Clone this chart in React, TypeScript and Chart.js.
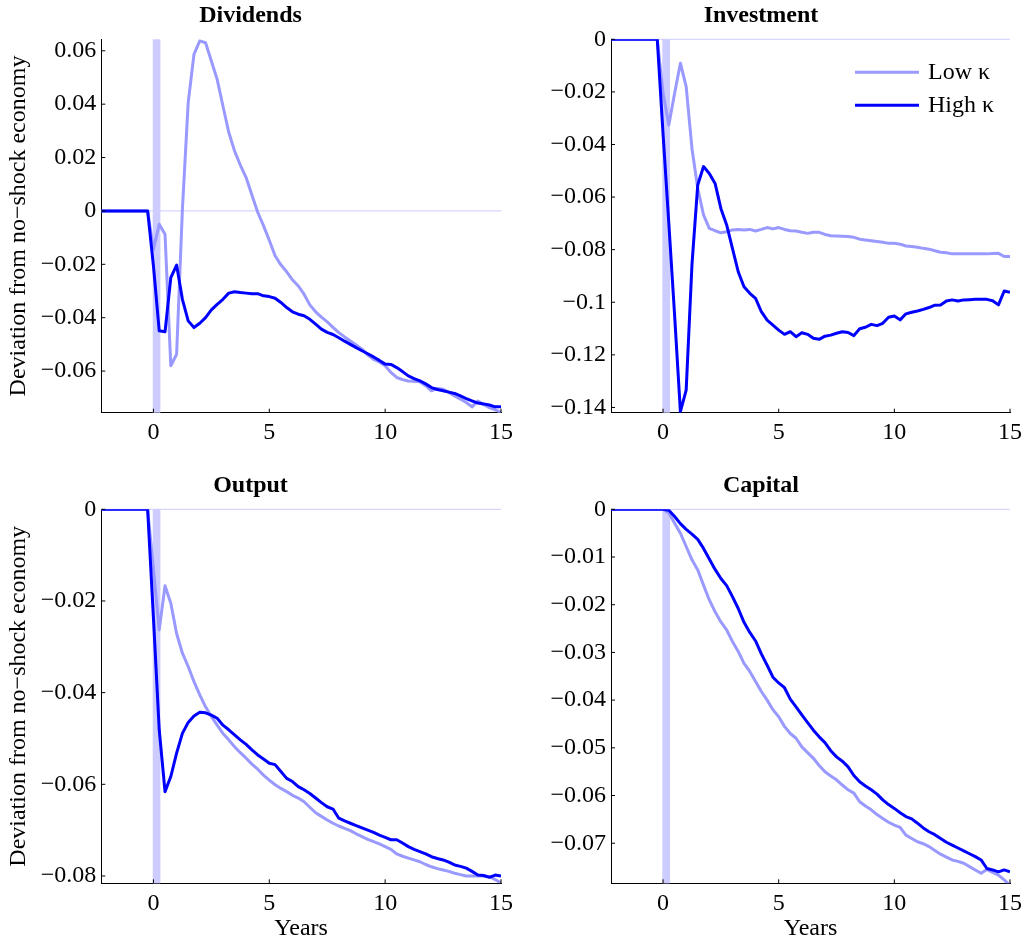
import React, { useEffect, useRef } from "react";
import { Chart, registerables } from "chart.js";

Chart.register(...registerables);

// ---------------- data ----------------
const YEARS = [
  -2.25, -0.25,
  0, 0.25, 0.5, 0.75,
  1, 1.25, 1.5, 1.75,
  2, 2.25, 2.5, 2.75,
  3, 3.25, 3.5, 3.75,
  4, 4.25, 4.5, 4.75,
  5, 5.25, 5.5, 5.75,
  6, 6.25, 6.5, 6.75,
  7, 7.25, 7.5, 7.75,
  8, 8.25, 8.5, 8.75,
  9, 9.25, 9.5, 9.75,
  10, 10.25, 10.5, 10.75,
  11, 11.25, 11.5, 11.75,
  12, 12.25, 12.5, 12.75,
  13, 13.25, 13.5, 13.75,
  14, 14.25, 14.5, 14.75,
  15,
];

const SERIES_LABELS = ["Low κ", "High κ"];
const SHOCK_PERIOD = [-0.03, 0.3];

const DIV_LOW = [
  0, 0,
  -0.0144, -0.005, -0.0087, -0.058,
  -0.0537, 0.0006, 0.0406, 0.0587,
  0.0637, 0.063, 0.0562, 0.0493,
  0.0393, 0.0295, 0.0225, 0.0172,
  0.0125, 0.006, -0.0005, -0.0055,
  -0.011, -0.0168, -0.0202, -0.0228,
  -0.0258, -0.0281, -0.0312, -0.0352,
  -0.0378, -0.0398, -0.0416, -0.0436,
  -0.0456, -0.0472, -0.0487, -0.0502,
  -0.0518, -0.054, -0.0556, -0.0566,
  -0.058, -0.0605, -0.0624, -0.0632,
  -0.0637, -0.0638, -0.064, -0.0655,
  -0.0674, -0.0665, -0.0668, -0.068,
  -0.0693, -0.0705, -0.0718, -0.0734,
  -0.0712, -0.0725, -0.0737, -0.0745,
  -0.0755,
];
const DIV_HIGH = [
  0, 0,
  -0.0206, -0.0449, -0.0453, -0.025,
  -0.0203, -0.0331, -0.0412, -0.0437,
  -0.0421, -0.04, -0.0371, -0.035,
  -0.0331, -0.0308, -0.0303, -0.0306,
  -0.0308, -0.031, -0.031, -0.0318,
  -0.0321, -0.0327, -0.0343, -0.0362,
  -0.0378, -0.0387, -0.0393, -0.0406,
  -0.0424, -0.0443, -0.0455, -0.0463,
  -0.0475, -0.0488, -0.05, -0.0512,
  -0.0524, -0.0535, -0.0547, -0.056,
  -0.0574, -0.0575, -0.0587, -0.0602,
  -0.0618, -0.0628, -0.0637, -0.0648,
  -0.0662, -0.0669, -0.0674, -0.0679,
  -0.0684, -0.0693, -0.0703, -0.0712,
  -0.072, -0.0723, -0.0727, -0.0734,
  -0.0734,
];

const INV_LOW = [
  0, 0,
  -0.0205, -0.0326, -0.0205, -0.0091,
  -0.018, -0.0415, -0.0567, -0.0668,
  -0.0719, -0.0728, -0.0736, -0.0732,
  -0.0725, -0.0723, -0.0725, -0.0723,
  -0.0729, -0.0723, -0.0716, -0.0721,
  -0.0716, -0.0723, -0.0728, -0.0729,
  -0.0734, -0.0738, -0.0734, -0.0734,
  -0.0742, -0.0747, -0.0748, -0.0749,
  -0.075, -0.0753, -0.076, -0.0763,
  -0.0766, -0.0769, -0.0772, -0.0776,
  -0.0776, -0.0779, -0.0786, -0.0788,
  -0.0791, -0.0795, -0.0798, -0.0804,
  -0.081, -0.0812, -0.0816, -0.0816,
  -0.0816, -0.0816, -0.0816, -0.0816,
  -0.0816, -0.0815, -0.0814, -0.0826,
  -0.0826,
];
const INV_HIGH = [
  0, 0,
  -0.036, -0.07, -0.105, -0.1416,
  -0.1334, -0.0858, -0.0554, -0.0484,
  -0.051, -0.0548, -0.0643, -0.0706,
  -0.0795, -0.0884, -0.0941, -0.0966,
  -0.0985, -0.1036, -0.1068, -0.1087,
  -0.1106, -0.1122, -0.1112, -0.1131,
  -0.1116, -0.1122, -0.1137, -0.1141,
  -0.1129, -0.1125, -0.1118, -0.1112,
  -0.1115, -0.1127, -0.1101, -0.1095,
  -0.1084, -0.1089, -0.108, -0.1057,
  -0.1052, -0.1067, -0.1044, -0.1038,
  -0.1033, -0.1027, -0.102, -0.1011,
  -0.101, -0.0995, -0.0991, -0.0995,
  -0.0991, -0.099, -0.0989, -0.0989,
  -0.0989, -0.0994, -0.101, -0.0957,
  -0.0962,
];

const OUT_LOW = [
  0, 0,
  -0.013, -0.0263, -0.0167, -0.0205,
  -0.0271, -0.0314, -0.0343, -0.0376,
  -0.0405, -0.0431, -0.0452, -0.0471,
  -0.0489, -0.0503, -0.0518, -0.0531,
  -0.0543, -0.0556, -0.0567, -0.058,
  -0.0591, -0.0601, -0.0609, -0.0616,
  -0.0624, -0.063, -0.0638, -0.065,
  -0.0662, -0.067, -0.0678, -0.0685,
  -0.0691, -0.0696, -0.0701, -0.0708,
  -0.0714, -0.072, -0.0725, -0.073,
  -0.0736, -0.0742, -0.0752, -0.0757,
  -0.0761, -0.0765, -0.0769, -0.0775,
  -0.078, -0.0784, -0.0787, -0.079,
  -0.0794, -0.0797, -0.08, -0.08,
  -0.08, -0.08, -0.0801, -0.0808,
  -0.0815,
];
const OUT_HIGH = [
  0, 0,
  -0.0237, -0.0481, -0.0616, -0.0583,
  -0.0532, -0.0489, -0.0465, -0.0451,
  -0.0443, -0.0444, -0.0449, -0.0456,
  -0.0471, -0.0481, -0.0492, -0.0503,
  -0.0513, -0.0525, -0.0536, -0.0545,
  -0.0554, -0.0557, -0.0572, -0.0587,
  -0.0594, -0.0605, -0.0612, -0.062,
  -0.063, -0.064, -0.0649, -0.0654,
  -0.0674, -0.068, -0.0685, -0.069,
  -0.0695, -0.07, -0.0705, -0.0711,
  -0.0716, -0.0721, -0.0721, -0.0728,
  -0.0736, -0.0742, -0.0747, -0.0752,
  -0.0758, -0.0762, -0.0765, -0.077,
  -0.0776, -0.0779, -0.0783, -0.079,
  -0.0798, -0.0799, -0.0803, -0.0798,
  -0.08,
];

const CAP_LOW = [
  0, 0,
  0, -0.0008, -0.0029, -0.005,
  -0.0078, -0.0106, -0.0127, -0.0159,
  -0.019, -0.0215, -0.0236, -0.0253,
  -0.0277, -0.0298, -0.0323, -0.034,
  -0.0361, -0.0382, -0.04, -0.042,
  -0.0435, -0.0455, -0.047, -0.048,
  -0.0498, -0.051, -0.0522, -0.0537,
  -0.055, -0.0559, -0.0567, -0.0578,
  -0.0588, -0.0595, -0.0613, -0.0622,
  -0.063, -0.064, -0.0648, -0.0656,
  -0.0662, -0.0667, -0.0683, -0.069,
  -0.0697, -0.0701, -0.0707, -0.0715,
  -0.0723, -0.0729, -0.0735, -0.0738,
  -0.0742, -0.0749, -0.0756, -0.0763,
  -0.0755, -0.0761, -0.0767, -0.0777,
  -0.0788,
];
const CAP_HIGH = [
  0, 0,
  0, -0.0002, -0.0015, -0.003,
  -0.0042, -0.0052, -0.0063, -0.0082,
  -0.0104, -0.0126, -0.0145, -0.016,
  -0.0183, -0.0208, -0.0237, -0.0258,
  -0.0276, -0.0303, -0.0327, -0.0352,
  -0.0364, -0.0374, -0.0398, -0.0414,
  -0.0431, -0.0447, -0.0463, -0.0477,
  -0.0489, -0.0506, -0.0519, -0.0528,
  -0.054, -0.0558, -0.0571, -0.058,
  -0.0588, -0.0597, -0.0609, -0.0619,
  -0.0627, -0.0636, -0.0644, -0.0649,
  -0.0658, -0.0668, -0.0676, -0.0682,
  -0.069, -0.0698, -0.0704, -0.071,
  -0.0716, -0.0722, -0.0728, -0.0735,
  -0.0753, -0.0756, -0.076, -0.0756,
  -0.076,
];

const X_RANGE = [-2.25, 15];
const X_TICKS = [0, 5, 10, 15];
const X_TICK_LABELS = ["0", "5", "10", "15"];

const DIV_RANGE = [-0.0756, 0.0643];
const DIV_TICKS = [-0.06, -0.04, -0.02, 0, 0.02, 0.04, 0.06];
const DIV_TICK_LABELS = ["−0.06", "−0.04", "−0.02", "0", "0.02", "0.04", "0.06"];

const INV_RANGE = [-0.142, 0];
const INV_TICKS = [-0.14, -0.12, -0.1, -0.08, -0.06, -0.04, -0.02, 0];
const INV_TICK_LABELS = ["−0.14", "−0.12", "−0.1", "−0.08", "−0.06", "−0.04", "−0.02", "0"];

const OUT_RANGE = [-0.0816, 0];
const OUT_TICKS = [-0.08, -0.06, -0.04, -0.02, 0];
const OUT_TICK_LABELS = ["−0.08", "−0.06", "−0.04", "−0.02", "0"];

const CAP_RANGE = [-0.0784, 0];
const CAP_TICKS = [-0.07, -0.06, -0.05, -0.04, -0.03, -0.02, -0.01, 0];
const CAP_TICK_LABELS = ["−0.07", "−0.06", "−0.05", "−0.04", "−0.03", "−0.02", "−0.01", "0"];

const Y_TITLE = "Deviation from no−shock economy";
const X_TITLE = "Years";

// ---------------- style ----------------
const FONT = "'Liberation Serif', 'Times New Roman', Times, serif";
const LIGHT = "rgb(153,153,255)";
const DARK = "rgb(0,0,255)";
const SHADE = "rgb(204,204,255)";
const ZERO = "rgb(204,204,255)";

type Panel = {
  title: string;
  low: number[];
  high: number[];
  range: number[];
  ticks: number[];
  tickLabels: string[];
  yTitle: boolean;
  xTitle: boolean;
  legend: boolean;
  box: { x: number; y: number; w: number; h: number };
  area: { left: number; right: number; top: number; bottom: number };
  titlePad: { top: number; bottom: number };
};

const PANELS: Panel[] = [
  {
    title: "Dividends", low: DIV_LOW, high: DIV_HIGH, range: DIV_RANGE, ticks: DIV_TICKS, tickLabels: DIV_TICK_LABELS,
    yTitle: true, xTitle: false, legend: false,
    box: { x: 0, y: 0, w: 512, h: 460 },
    area: { left: 101.3, right: 501, top: 39.3, bottom: 412.7 },
    titlePad: { top: 1.2, bottom: 9.3 },
  },
  {
    title: "Investment", low: INV_LOW, high: INV_HIGH, range: INV_RANGE, ticks: INV_TICKS, tickLabels: INV_TICK_LABELS,
    yTitle: false, xTitle: false, legend: true,
    box: { x: 512, y: 0, w: 512, h: 460 },
    area: { left: 99, right: 498, top: 39.3, bottom: 412.7 },
    titlePad: { top: 1.2, bottom: 9.3 },
  },
  {
    title: "Output", low: OUT_LOW, high: OUT_HIGH, range: OUT_RANGE, ticks: OUT_TICKS, tickLabels: OUT_TICK_LABELS,
    yTitle: true, xTitle: true, legend: false,
    box: { x: 0, y: 460, w: 512, h: 485 },
    area: { left: 101.3, right: 501, top: 49.3, bottom: 423.3 },
    titlePad: { top: 11.2, bottom: 9.3 },
  },
  {
    title: "Capital", low: CAP_LOW, high: CAP_HIGH, range: CAP_RANGE, ticks: CAP_TICKS, tickLabels: CAP_TICK_LABELS,
    yTitle: false, xTitle: true, legend: false,
    box: { x: 512, y: 460, w: 512, h: 485 },
    area: { left: 99, right: 498, top: 49.3, bottom: 423.3 },
    titlePad: { top: 11.2, bottom: 9.3 },
  },
];

const decorPlugin = {
  id: "decor",
  beforeDatasetsDraw(chart: any) {
    const { ctx, chartArea: a, scales } = chart;
    const x = scales.x;
    const y = scales.y;
    ctx.save();
    const x0 = x.getPixelForValue(SHOCK_PERIOD[0]);
    const x1 = x.getPixelForValue(SHOCK_PERIOD[1]);
    ctx.fillStyle = SHADE;
    ctx.fillRect(x0, a.top, x1 - x0, a.bottom - a.top);
    const yz = y.getPixelForValue(0);
    ctx.strokeStyle = ZERO;
    ctx.lineWidth = 1;
    ctx.beginPath();
    ctx.moveTo(a.left, yz);
    ctx.lineTo(a.right, yz);
    ctx.stroke();
    ctx.restore();
  },
  afterDatasetsDraw(chart: any, _args: any, opts: any) {
    const { ctx, chartArea: a, scales } = chart;
    const x = scales.x;
    const y = scales.y;
    ctx.save();
    ctx.strokeStyle = "#000";
    ctx.lineWidth = 1;
    ctx.beginPath();
    x.ticks.forEach((t: any) => {
      const px = x.getPixelForValue(t.value);
      ctx.moveTo(px, a.bottom);
      ctx.lineTo(px, a.bottom - 4);
    });
    y.ticks.forEach((t: any) => {
      const py = y.getPixelForValue(t.value);
      ctx.moveTo(a.left, py);
      ctx.lineTo(a.left + 4, py);
    });
    ctx.stroke();

    if (opts && opts.legend) {
      const items = [chart.data.datasets[1], chart.data.datasets[0]];
      ctx.font = `24px ${FONT}`;
      ctx.textBaseline = "middle";
      ctx.textAlign = "left";
      items.forEach((ds: any, i: number) => {
        const yy = a.top + 33 + i * 33;
        ctx.strokeStyle = ds.borderColor;
        ctx.lineWidth = ds.borderWidth;
        ctx.beginPath();
        ctx.moveTo(a.right - 155, yy);
        ctx.lineTo(a.right - 91, yy);
        ctx.stroke();
        ctx.fillStyle = "#000";
        ctx.fillText(ds.label, a.right - 82, yy);
      });
    }
    ctx.restore();
  },
};

function buildConfig(p: Panel): any {
  const toPoints = (vals: number[]) => YEARS.map((xv, i) => ({ x: xv, y: vals[i] }));
  return {
    type: "line",
    data: {
      datasets: [
        {
          label: SERIES_LABELS[1],
          data: toPoints(p.high),
          borderColor: DARK,
          borderWidth: 3,
          pointRadius: 0,
          tension: 0,
          order: 0,
          borderJoinStyle: "round",
        },
        {
          label: SERIES_LABELS[0],
          data: toPoints(p.low),
          borderColor: LIGHT,
          borderWidth: 3,
          pointRadius: 0,
          tension: 0,
          order: 1,
          borderJoinStyle: "round",
        },
      ],
    },
    options: {
      animation: false,
      responsive: false,
      maintainAspectRatio: false,
      events: [],
      layout: { padding: { left: 0, right: p.box.w - p.area.right, top: 0, bottom: 0 } },
      plugins: {
        legend: { display: false },
        tooltip: { enabled: false },
        title: {
          display: true,
          text: p.title,
          color: "#000",
          font: { family: FONT, size: 24, weight: "bold", lineHeight: 1.2 },
          padding: p.titlePad,
        },
        decor: { legend: p.legend },
      },
      scales: {
        x: {
          type: "linear",
          min: X_RANGE[0],
          max: X_RANGE[1],
          grid: { display: false, drawTicks: false },
          border: { display: true, color: "#000", width: 1 },
          ticks: {
            color: "#000",
            font: { family: FONT, size: 24, lineHeight: 1.2 },
            padding: 6,
            maxRotation: 0,
            autoSkip: false,
            callback: (v: number) => {
              const i = X_TICKS.findIndex((t) => Math.abs(t - v) < 1e-9);
              return i >= 0 ? X_TICK_LABELS[i] : "";
            },
          },
          afterBuildTicks: (s: any) => {
            s.ticks = X_TICKS.map((v) => ({ value: v }));
          },
          afterFit: (s: any) => {
            s.height = p.box.h - p.area.bottom;
            s.paddingLeft = 0;
            s.paddingRight = 0;
          },
          title: {
            display: p.xTitle,
            text: X_TITLE,
            color: "#000",
            font: { family: FONT, size: 24, lineHeight: 1.2 },
            padding: { top: 0, bottom: 1.6 },
          },
        },
        y: {
          type: "linear",
          min: p.range[0],
          max: p.range[1],
          grid: { display: false, drawTicks: false },
          border: { display: true, color: "#000", width: 1 },
          ticks: {
            color: "#000",
            font: { family: FONT, size: 24, lineHeight: 1.2 },
            padding: 5,
            autoSkip: false,
            callback: (v: number) => {
              const i = p.ticks.findIndex((t) => Math.abs(t - v) < 1e-9);
              return i >= 0 ? p.tickLabels[i] : "";
            },
          },
          afterBuildTicks: (s: any) => {
            s.ticks = p.ticks.map((v) => ({ value: v }));
          },
          afterFit: (s: any) => {
            s.width = p.area.left;
            s.paddingTop = 0;
            s.paddingBottom = 0;
          },
          title: {
            display: p.yTitle,
            text: Y_TITLE,
            color: "#000",
            font: { family: FONT, size: 24, lineHeight: 1.2 },
            padding: { top: 4.6, bottom: 0 },
          },
        },
      },
    },
    plugins: [decorPlugin],
  };
}

function PanelChart({ panel }: { panel: Panel }) {
  const ref = useRef<HTMLCanvasElement | null>(null);
  useEffect(() => {
    if (!ref.current) return;
    const chart = new Chart(ref.current, buildConfig(panel));
    return () => chart.destroy();
  }, [panel]);
  return (
    <canvas
      ref={ref}
      width={panel.box.w}
      height={panel.box.h}
      style={{
        position: "absolute",
        left: panel.box.x,
        top: panel.box.y,
        width: panel.box.w,
        height: panel.box.h,
        display: "block",
      }}
    />
  );
}

export default function App() {
  return (
    <div style={{ position: "absolute", left: 0, top: 0, width: 1024, height: 945, background: "#fff", overflow: "hidden" }}>
      {PANELS.map((p) => (
        <PanelChart key={p.title} panel={p} />
      ))}
    </div>
  );
}
